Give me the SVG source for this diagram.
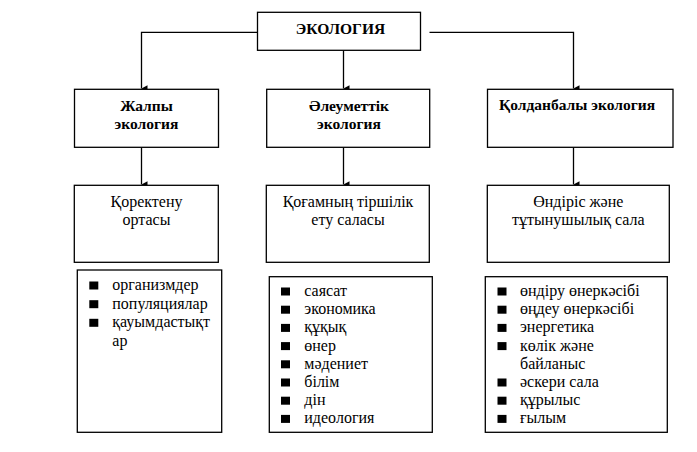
<svg xmlns="http://www.w3.org/2000/svg" width="697" height="452" viewBox="0 0 697 452">
<style>
.box{fill:#fff;stroke:#000;stroke-width:1.3}
.ln{fill:none;stroke:#000;stroke-width:1.3}
text{font-family:'Liberation Serif','Times New Roman',serif;fill:#000}
.t{font-size:16px}
.b{font-size:15.5px;font-weight:bold}
.c{text-anchor:middle}
.bul{fill:#000}
</style>
<defs>
<marker id="ah" markerUnits="userSpaceOnUse" markerWidth="8" markerHeight="8" viewBox="0 0 8 8" refX="4" refY="7" orient="auto-start-reverse">
<path d="M0.8,1 L7.2,1 L4,7 Z" fill="#000"/>
</marker>
</defs>
<rect width="697" height="452" fill="#fff"/>
<g id="connectors">
<path class="ln" d="M267,32.3 H141.5 V88.5" marker-end="url(#ah)"/>
<path class="ln" d="M429.5,32.3 H573.5 V88.5" marker-end="url(#ah)"/>
<path class="ln" d="M343.5,50.5 V88.5" marker-end="url(#ah)"/>
<path class="ln" d="M141.5,147.3 V184.5" marker-end="url(#ah)"/>
<path class="ln" d="M343.5,147.3 V184.5" marker-end="url(#ah)"/>
<path class="ln" d="M573.5,147.3 V184.5" marker-end="url(#ah)"/>
</g>
<g id="ecology">
<rect class="box" x="257.5" y="12.3" width="163" height="38"/>
<text class="b c" x="340.5" y="33.5">ЭКОЛОГИЯ</text>
</g>
<g id="general">
<rect class="box" x="74.5" y="89.3" width="144" height="58"/>
<text class="b c" x="146.5" y="110.5">Жалпы</text>
<text class="b c" x="146.5" y="128.5">экология</text>
</g>
<g id="social">
<rect class="box" x="266.7" y="89.3" width="163" height="58"/>
<text class="b c" x="349" y="110.5">Әлеуметтік</text>
<text class="b c" x="349" y="128.5">экология</text>
</g>
<g id="applied">
<rect class="box" x="487.5" y="89.3" width="185.5" height="58"/>
<text class="b c" x="577" y="110">Қолданбалы экология</text>
</g>
<g id="nutrition">
<rect class="box" x="74.3" y="185.3" width="144" height="77"/>
<text class="t c" x="146.5" y="206.7">Қоректену</text>
<text class="t c" x="146.5" y="225">ортасы</text>
</g>
<g id="society">
<rect class="box" x="266.3" y="185.3" width="163" height="77"/>
<text class="t c" x="348" y="206.7">Қоғамның тіршілік</text>
<text class="t c" x="348" y="225">ету саласы</text>
</g>
<g id="production">
<rect class="box" x="487.3" y="185.3" width="182" height="77"/>
<text class="t c" x="578.3" y="206.7">Өндіріс және</text>
<text class="t c" x="578.3" y="225">тұтынушылық сала</text>
</g>
<g id="list1">
<rect class="box" x="77.3" y="270" width="144.4" height="162.3"/>
<rect class="bul" x="89.3" y="281.5" width="9" height="8"/>
<rect class="bul" x="89.3" y="300.2" width="9" height="8"/>
<rect class="bul" x="89.3" y="318.8" width="9" height="8"/>
<text class="t" x="112.3" y="290">организмдер</text>
<text class="t" x="112.3" y="308.7">популяциялар</text>
<text class="t" x="112.3" y="327.3">қауымдастықт</text>
<text class="t" x="112.3" y="346">ар</text>
</g>
<g id="list2">
<rect class="box" x="269.3" y="276.7" width="163" height="155.6"/>
<rect class="bul" x="281" y="287.5" width="9" height="8"/>
<rect class="bul" x="281" y="305.7" width="9" height="8"/>
<rect class="bul" x="281" y="323.9" width="9" height="8"/>
<rect class="bul" x="281" y="342.1" width="9" height="8"/>
<rect class="bul" x="281" y="360.3" width="9" height="8"/>
<rect class="bul" x="281" y="378.5" width="9" height="8"/>
<rect class="bul" x="281" y="396.7" width="9" height="8"/>
<rect class="bul" x="281" y="414.9" width="9" height="8"/>
<text class="t" x="304.3" y="296">саясат</text>
<text class="t" x="304.3" y="314.2">экономика</text>
<text class="t" x="304.3" y="332.4">құқық</text>
<text class="t" x="304.3" y="350.6">өнер</text>
<text class="t" x="304.3" y="368.8">мәдениет</text>
<text class="t" x="304.3" y="387">білім</text>
<text class="t" x="304.3" y="405.2">дін</text>
<text class="t" x="304.3" y="423.4">идеология</text>
</g>
<g id="list3">
<rect class="box" x="485.3" y="276.7" width="182" height="155.6"/>
<rect class="bul" x="497.5" y="287.5" width="9" height="8"/>
<rect class="bul" x="497.5" y="305.7" width="9" height="8"/>
<rect class="bul" x="497.5" y="323.9" width="9" height="8"/>
<rect class="bul" x="497.5" y="342.1" width="9" height="8"/>
<rect class="bul" x="497.5" y="378.5" width="9" height="8"/>
<rect class="bul" x="497.5" y="396.7" width="9" height="8"/>
<rect class="bul" x="497.5" y="414.9" width="9" height="8"/>
<text class="t" x="520" y="296">өндіру өнеркәсібі</text>
<text class="t" x="520" y="314.2">өңдеу өнеркәсібі</text>
<text class="t" x="520" y="332.4">энергетика</text>
<text class="t" x="520" y="350.6">көлік және</text>
<text class="t" x="520" y="368.8">байланыс</text>
<text class="t" x="520" y="387">әскери сала</text>
<text class="t" x="520" y="405.2">құрылыс</text>
<text class="t" x="520" y="423.4">ғылым</text>
</g>
</svg>
